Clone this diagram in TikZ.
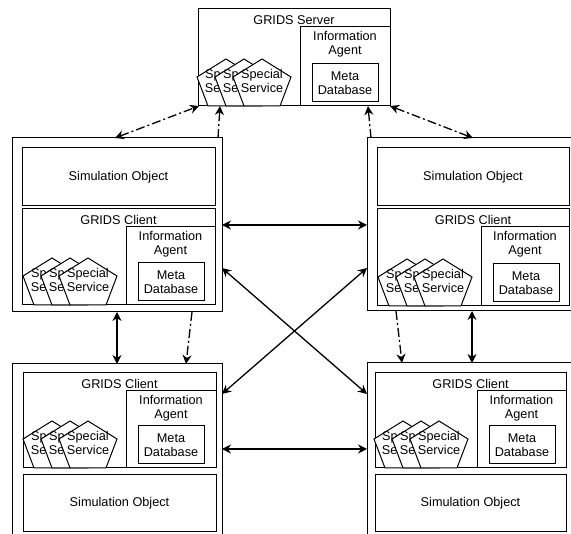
\documentclass[tikz,border=0pt]{standalone}
\usepackage{fontspec}
\setmainfont{Liberation Sans}
\usetikzlibrary{arrows.meta}
\tikzset{
  bx/.style={draw=black,line width=1pt,fill=white,inner sep=0pt,outer sep=0pt,align=center,font=\fontsize{12.7}{14}\selectfont},
  outerbx/.style={bx,line width=1pt},
  lbl/.style={inner sep=0pt,align=center,font=\fontsize{12.7}{14}\selectfont},
  link/.style={line width=1.3pt,{Stealth[length=9pt,width=9pt]}-{Stealth[length=9pt,width=9pt]}},
  dlinkboth/.style={link,dash pattern=on 9pt off 3pt on 2pt off 3pt},
  dlinkone/.style={line width=1.3pt,-{Stealth[length=9pt,width=9pt]},dash pattern=on 9pt off 3pt on 2pt off 3pt}
}
% name, left, top, right, bottom, text
\newcommand{\rbox}[7][bx]{\node[#1,minimum width={((#5)-(#3))*1pt},minimum height={((#6)-(#4))*1pt}] (#2) at ({((#3)+(#5))/2},{((#4)+(#6))/2}) {#7};}
\newcommand{\penta}[3]{%
  \draw[line width=1pt,fill=white] (#1-29,#2-29) -- (#1,#2-47) -- (#1+29,#2-29) -- (#1+18,#2) -- (#1-18,#2) -- cycle;
  \node[lbl] (#3) at (#1,#2-25) {Special\\Service};}
% prefix, left, top, right, bottom, info left, title
\newcommand{\agentblock}[7]{%
  \rbox{#1}{#2}{#3}{#4}{#5}{}
  \node[lbl] (#1title) at ({(#2+#4)/2},#3+11) {#7};
  \rbox{#1info}{#6}{#3+18}{#4}{#5}{}
  \node[lbl] (#1infotext) at ({(#6+#4)/2},#3+35) {Information\\Agent};
  \rbox{#1meta}{#6+12}{#5-42}{#6+78}{#5-4}{Meta\\Database}
  \penta{#6-74}{#5}{#1sa}
  \penta{#6-56}{#5}{#1sb}
  \penta{#6-38}{#5}{#1sc}
}
\begin{document}
\begin{tikzpicture}[x=1pt,y=-1pt]
\useasboundingbox (0,0) rectangle (571,534);
\clip (0,0) rectangle (571,534);
% server
\agentblock{srv}{198}{9}{390}{106}{300}{GRIDS Server}
% top left
\rbox[outerbx]{tl}{12}{138}{222}{312}{}
\rbox{tlsim}{22}{148}{215}{206}{Simulation Object}
\agentblock{tlc}{22}{209}{215}{305}{126}{GRIDS Client}
% top right
\rbox[outerbx]{tr}{367}{138}{580}{311}{}
\rbox{trsim}{377}{148}{569}{206}{Simulation Object}
\agentblock{trc}{377}{209}{569}{306}{481}{GRIDS Client}
% bottom left
\rbox[outerbx]{bl}{12}{364}{222}{545}{}
\agentblock{blc}{23}{373}{216}{468}{126}{GRIDS Client}
\rbox{blsim}{23}{475}{216}{532}{Simulation Object}
% bottom right
\rbox[outerbx]{br}{367}{363}{578}{545}{}
\agentblock{brc}{375}{373}{566}{468}{477}{GRIDS Client}
\rbox{brsim}{375}{475}{566}{532}{Simulation Object}
% free positions on the box edges
\coordinate (a1) at (115,0); \coordinate (a2) at (199,0);
\coordinate (b1) at (218,0); \coordinate (b2) at (220,0);
\coordinate (c1) at (371,0); \coordinate (c2) at (368,0);
\coordinate (d1) at (473,0); \coordinate (d2) at (390,0);
\coordinate (e) at (117,0);  \coordinate (f1) at (192,0); \coordinate (f2) at (186,0);
\coordinate (g1) at (396,0); \coordinate (g2) at (402,0); \coordinate (h) at (472,0);
\coordinate (k1) at (0,225); \coordinate (k2) at (0,268); \coordinate (k3) at (0,394); \coordinate (k4) at (0,449);
% connectors
\draw[dlinkboth] (tl.north -| a1) -- (srv.south -| a2);
\draw[dlinkone] (tl.north -| b1) -- (srv.south -| b2);
\draw[dlinkone] (tr.north -| c1) -- (srv.south -| c2);
\draw[dlinkboth] (tr.north -| d1) -- (srv.south -| d2);
\draw[link] (tl.east |- k1) -- (tr.west |- k1);
\draw[link] (tl.east |- k2) -- (br.west |- k3);
\draw[link] (tr.west |- k2) -- (bl.east |- k3);
\draw[link] (bl.east |- k4) -- (br.west |- k4);
\draw[link] (tl.south -| e) -- (bl.north -| e);
\draw[dlinkone] (tl.south -| f1) -- (bl.north -| f2);
\draw[dlinkone] (tr.south -| g1) -- (br.north -| g2);
\draw[link] (tr.south -| h) -- (br.north -| h);
\end{tikzpicture}
\end{document}
